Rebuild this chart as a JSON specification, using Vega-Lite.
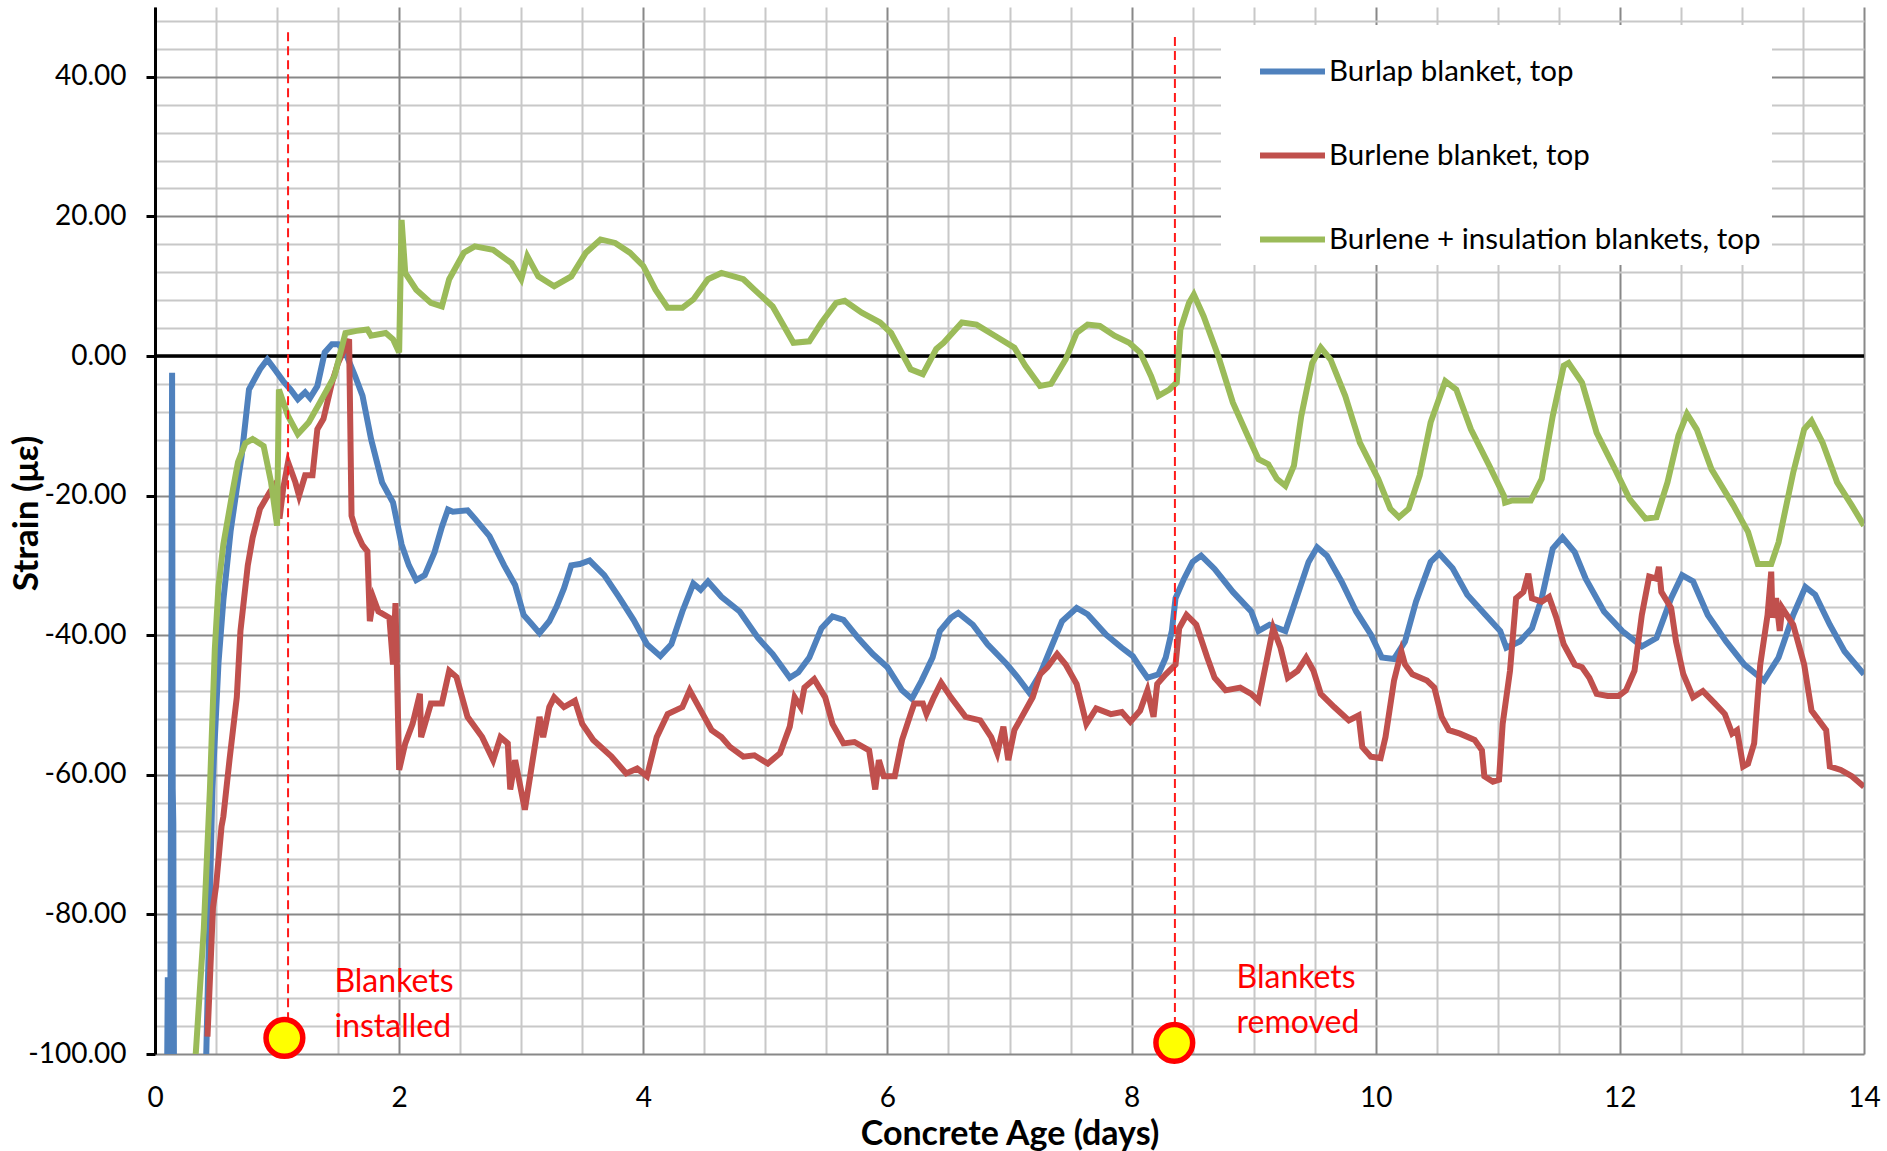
{
  "$schema": "https://vega.github.io/schema/vega-lite/v6.json",
  "width": 1709,
  "height": 1047,
  "autosize": {"type": "none"},
  "padding": {"left": 155, "top": 7, "right": 23, "bottom": 97},
  "background": "white",
  "config": {"view": {"stroke": null}, "font": "Lato"},
  "datasets": {
    "blue": [
      {"d":0.10,"v":-101},{"d":0.105,"v":-89},{"d":0.11,"v":-101},{"d":0.125,"v":-101},{"d":0.14,"v":-2.4},{"d":0.145,"v":-62},{"d":0.15,"v":-67},{"d":0.155,"v":-101},{"d":0.20,"v":-140},{"d":0.36,"v":-140},{"d":0.42,"v":-100},{"d":0.47,"v":-62},{"d":0.52,"v":-44},{"d":0.56,"v":-35},{"d":0.62,"v":-25},{"d":0.67,"v":-19},{"d":0.71,"v":-14.3},{"d":0.77,"v":-4.8},{"d":0.86,"v":-1.9},{"d":0.92,"v":-0.5},{"d":0.98,"v":-1.9},{"d":1.05,"v":-3.6},{"d":1.11,"v":-4.8},{"d":1.17,"v":-6.2},{"d":1.23,"v":-5.2},{"d":1.27,"v":-6},{"d":1.33,"v":-4.3},{"d":1.39,"v":0.5},{"d":1.45,"v":1.7},{"d":1.50,"v":1.7},{"d":1.56,"v":0.5},{"d":1.64,"v":-2.9},{"d":1.70,"v":-5.7},{"d":1.77,"v":-11.9},{"d":1.86,"v":-18.1},{"d":1.95,"v":-21},{"d":2.02,"v":-27},{"d":2.08,"v":-30},{"d":2.14,"v":-32.1},{"d":2.21,"v":-31.4},{"d":2.29,"v":-28.1},{"d":2.35,"v":-24.5},{"d":2.40,"v":-22},{"d":2.44,"v":-22.3},{"d":2.56,"v":-22.1},{"d":2.62,"v":-23.3},{"d":2.74,"v":-25.8},{"d":2.86,"v":-30},{"d":2.95,"v":-32.8},{"d":3.02,"v":-37.1},{"d":3.08,"v":-38.3},{"d":3.15,"v":-39.7},{"d":3.23,"v":-38},{"d":3.29,"v":-35.9},{"d":3.35,"v":-33.3},{"d":3.41,"v":-30},{"d":3.48,"v":-29.8},{"d":3.56,"v":-29.3},{"d":3.68,"v":-31.4},{"d":3.80,"v":-34.5},{"d":3.92,"v":-37.8},{"d":4.03,"v":-41.3},{"d":4.14,"v":-43},{"d":4.23,"v":-41.3},{"d":4.32,"v":-36.6},{"d":4.41,"v":-32.6},{"d":4.47,"v":-33.5},{"d":4.53,"v":-32.3},{"d":4.64,"v":-34.5},{"d":4.79,"v":-36.6},{"d":4.94,"v":-40.4},{"d":5.06,"v":-42.7},{"d":5.20,"v":-46.1},{"d":5.27,"v":-45.3},{"d":5.36,"v":-43.2},{"d":5.46,"v":-39},{"d":5.55,"v":-37.3},{"d":5.64,"v":-37.8},{"d":5.76,"v":-40.4},{"d":5.88,"v":-42.7},{"d":6.0,"v":-44.6},{"d":6.12,"v":-47.9},{"d":6.20,"v":-49.1},{"d":6.28,"v":-46.5},{"d":6.37,"v":-43.2},{"d":6.43,"v":-39.4},{"d":6.52,"v":-37.5},{"d":6.58,"v":-36.8},{"d":6.70,"v":-38.5},{"d":6.82,"v":-41.3},{"d":6.98,"v":-44.2},{"d":7.07,"v":-46.1},{"d":7.16,"v":-48.2},{"d":7.25,"v":-45.6},{"d":7.34,"v":-41.8},{"d":7.43,"v":-38},{"d":7.55,"v":-36.1},{"d":7.64,"v":-37},{"d":7.79,"v":-39.9},{"d":7.92,"v":-41.8},{"d":8.01,"v":-43},{"d":8.07,"v":-44.6},{"d":8.13,"v":-46.1},{"d":8.22,"v":-45.6},{"d":8.28,"v":-43.2},{"d":8.33,"v":-39.4},{"d":8.36,"v":-34.7},{"d":8.43,"v":-31.9},{"d":8.50,"v":-29.5},{"d":8.57,"v":-28.6},{"d":8.68,"v":-30.5},{"d":8.83,"v":-33.8},{"d":8.98,"v":-36.6},{"d":9.04,"v":-39.4},{"d":9.13,"v":-38.5},{"d":9.26,"v":-39.4},{"d":9.35,"v":-34.7},{"d":9.45,"v":-29.5},{"d":9.52,"v":-27.4},{"d":9.60,"v":-28.6},{"d":9.72,"v":-32.3},{"d":9.84,"v":-36.6},{"d":9.96,"v":-39.9},{"d":10.05,"v":-43.2},{"d":10.15,"v":-43.4},{"d":10.24,"v":-40.9},{"d":10.33,"v":-35.2},{"d":10.45,"v":-29.5},{"d":10.52,"v":-28.3},{"d":10.63,"v":-30.4},{"d":10.75,"v":-34.2},{"d":10.90,"v":-37.1},{"d":11.02,"v":-39.4},{"d":11.07,"v":-41.8},{"d":11.18,"v":-40.9},{"d":11.28,"v":-39},{"d":11.36,"v":-34.7},{"d":11.45,"v":-27.6},{"d":11.53,"v":-26},{"d":11.63,"v":-28.1},{"d":11.72,"v":-31.9},{"d":11.87,"v":-36.6},{"d":12.02,"v":-39.4},{"d":12.18,"v":-41.6},{"d":12.30,"v":-40.4},{"d":12.42,"v":-34.7},{"d":12.51,"v":-31.4},{"d":12.60,"v":-32.3},{"d":12.72,"v":-37.1},{"d":12.87,"v":-40.9},{"d":13.02,"v":-44.2},{"d":13.18,"v":-46.5},{"d":13.30,"v":-43.2},{"d":13.42,"v":-37.1},{"d":13.52,"v":-33.1},{"d":13.60,"v":-34.2},{"d":13.72,"v":-38.5},{"d":13.84,"v":-42.3},{"d":14.0,"v":-45.6}
    ],
    "red": [
      {"d":0.43,"v":-97.5},{"d":0.475,"v":-79},{"d":0.50,"v":-76},{"d":0.545,"v":-67.4},{"d":0.56,"v":-66},{"d":0.61,"v":-57.9},{"d":0.67,"v":-48.9},{"d":0.70,"v":-39.4},{"d":0.76,"v":-30},{"d":0.80,"v":-26},{"d":0.86,"v":-21.9},{"d":0.94,"v":-19.5},{"d":1.0,"v":-18},{"d":1.02,"v":-23.3},{"d":1.05,"v":-19},{"d":1.09,"v":-15.2},{"d":1.15,"v":-18.1},{"d":1.18,"v":-20},{"d":1.23,"v":-17.1},{"d":1.29,"v":-17.1},{"d":1.33,"v":-10.5},{"d":1.38,"v":-9},{"d":1.45,"v":-3.8},{"d":1.50,"v":-1},{"d":1.59,"v":2.4},{"d":1.61,"v":-22.9},{"d":1.65,"v":-25.2},{"d":1.70,"v":-27.1},{"d":1.74,"v":-28},{"d":1.76,"v":-38},{"d":1.79,"v":-34.7},{"d":1.83,"v":-36.6},{"d":1.92,"v":-37.5},{"d":1.95,"v":-44.2},{"d":1.97,"v":-35.4},{"d":2.0,"v":-59.3},{"d":2.05,"v":-55.5},{"d":2.11,"v":-52.7},{"d":2.17,"v":-48.4},{"d":2.18,"v":-54.6},{"d":2.26,"v":-49.8},{"d":2.35,"v":-49.8},{"d":2.41,"v":-45.1},{"d":2.47,"v":-46},{"d":2.56,"v":-51.7},{"d":2.68,"v":-54.6},{"d":2.77,"v":-57.9},{"d":2.83,"v":-54.6},{"d":2.89,"v":-55.5},{"d":2.91,"v":-62.1},{"d":2.95,"v":-57.9},{"d":3.03,"v":-65},{"d":3.09,"v":-58.3},{"d":3.15,"v":-51.7},{"d":3.18,"v":-54.6},{"d":3.23,"v":-50.3},{"d":3.27,"v":-48.9},{"d":3.35,"v":-50.3},{"d":3.44,"v":-49.4},{"d":3.50,"v":-52.7},{"d":3.59,"v":-55},{"d":3.74,"v":-57.4},{"d":3.86,"v":-59.8},{"d":3.95,"v":-59.1},{"d":4.03,"v":-60.2},{"d":4.11,"v":-54.6},{"d":4.20,"v":-51.3},{"d":4.32,"v":-50.3},{"d":4.38,"v":-47.9},{"d":4.44,"v":-49.8},{"d":4.56,"v":-53.6},{"d":4.64,"v":-54.6},{"d":4.71,"v":-56},{"d":4.82,"v":-57.4},{"d":4.91,"v":-57.2},{"d":5.02,"v":-58.4},{"d":5.12,"v":-56.9},{"d":5.20,"v":-53.1},{"d":5.24,"v":-48.9},{"d":5.29,"v":-50.3},{"d":5.32,"v":-47.5},{"d":5.40,"v":-46.3},{"d":5.49,"v":-48.9},{"d":5.55,"v":-52.7},{"d":5.64,"v":-55.5},{"d":5.73,"v":-55.3},{"d":5.85,"v":-56.5},{"d":5.90,"v":-62.1},{"d":5.93,"v":-57.9},{"d":5.97,"v":-60.2},{"d":6.06,"v":-60.2},{"d":6.12,"v":-55},{"d":6.19,"v":-51.3},{"d":6.22,"v":-49.8},{"d":6.29,"v":-49.8},{"d":6.32,"v":-51.3},{"d":6.38,"v":-48.9},{"d":6.44,"v":-46.8},{"d":6.52,"v":-48.9},{"d":6.64,"v":-51.7},{"d":6.76,"v":-52.2},{"d":6.85,"v":-54.6},{"d":6.90,"v":-56.9},{"d":6.95,"v":-53.1},{"d":6.99,"v":-57.9},{"d":7.04,"v":-53.6},{"d":7.13,"v":-50.8},{"d":7.19,"v":-48.9},{"d":7.25,"v":-45.6},{"d":7.31,"v":-44.6},{"d":7.39,"v":-42.7},{"d":7.46,"v":-44.2},{"d":7.55,"v":-47},{"d":7.63,"v":-52.7},{"d":7.71,"v":-50.5},{"d":7.83,"v":-51.3},{"d":7.92,"v":-51},{"d":7.99,"v":-52.4},{"d":8.07,"v":-50.8},{"d":8.13,"v":-47.9},{"d":8.18,"v":-51.7},{"d":8.21,"v":-47},{"d":8.28,"v":-45.6},{"d":8.36,"v":-44.2},{"d":8.39,"v":-39},{"d":8.45,"v":-37.1},{"d":8.53,"v":-38.5},{"d":8.62,"v":-43.2},{"d":8.68,"v":-46.1},{"d":8.77,"v":-47.9},{"d":8.89,"v":-47.5},{"d":8.98,"v":-48.4},{"d":9.04,"v":-49.4},{"d":9.10,"v":-44.2},{"d":9.16,"v":-39},{"d":9.22,"v":-41.8},{"d":9.28,"v":-46.1},{"d":9.36,"v":-45.1},{"d":9.43,"v":-43.2},{"d":9.49,"v":-45.1},{"d":9.55,"v":-48.4},{"d":9.66,"v":-50.3},{"d":9.78,"v":-52.2},{"d":9.86,"v":-51.5},{"d":9.89,"v":-56},{"d":9.96,"v":-57.4},{"d":10.04,"v":-57.6},{"d":10.08,"v":-54.6},{"d":10.15,"v":-46.5},{"d":10.21,"v":-42.3},{"d":10.24,"v":-44.2},{"d":10.30,"v":-45.6},{"d":10.42,"v":-46.5},{"d":10.48,"v":-47.5},{"d":10.54,"v":-51.7},{"d":10.60,"v":-53.6},{"d":10.69,"v":-54.1},{"d":10.81,"v":-55},{"d":10.87,"v":-56.5},{"d":10.89,"v":-60.2},{"d":10.96,"v":-61},{"d":11.01,"v":-60.7},{"d":11.04,"v":-52.7},{"d":11.10,"v":-45.1},{"d":11.15,"v":-34.7},{"d":11.21,"v":-33.8},{"d":11.25,"v":-31.2},{"d":11.28,"v":-34.7},{"d":11.36,"v":-35.2},{"d":11.42,"v":-34.5},{"d":11.48,"v":-37.5},{"d":11.54,"v":-41.3},{"d":11.63,"v":-44.2},{"d":11.69,"v":-44.6},{"d":11.75,"v":-46.1},{"d":11.81,"v":-48.4},{"d":11.90,"v":-48.7},{"d":11.99,"v":-48.7},{"d":12.05,"v":-47.9},{"d":12.12,"v":-45.1},{"d":12.18,"v":-37.1},{"d":12.24,"v":-31.6},{"d":12.30,"v":-31.9},{"d":12.32,"v":-30.2},{"d":12.34,"v":-33.8},{"d":12.42,"v":-36.1},{"d":12.46,"v":-40.9},{"d":12.52,"v":-45.6},{"d":12.60,"v":-48.9},{"d":12.68,"v":-48},{"d":12.78,"v":-49.8},{"d":12.86,"v":-51.3},{"d":12.92,"v":-54.1},{"d":12.96,"v":-53.6},{"d":13.01,"v":-58.8},{"d":13.05,"v":-58.4},{"d":13.10,"v":-55.5},{"d":13.15,"v":-44.2},{"d":13.21,"v":-37.1},{"d":13.24,"v":-30.9},{"d":13.25,"v":-37.5},{"d":13.28,"v":-34.7},{"d":13.31,"v":-39.4},{"d":13.33,"v":-36.1},{"d":13.42,"v":-38.5},{"d":13.51,"v":-44.2},{"d":13.57,"v":-50.8},{"d":13.63,"v":-52.2},{"d":13.69,"v":-53.6},{"d":13.72,"v":-58.8},{"d":13.81,"v":-59.3},{"d":13.90,"v":-60.2},{"d":14.0,"v":-61.7}
    ],
    "green": [
      {"d":0.33,"v":-101},{"d":0.40,"v":-82},{"d":0.45,"v":-62},{"d":0.49,"v":-42},{"d":0.52,"v":-33},{"d":0.56,"v":-27},{"d":0.64,"v":-19},{"d":0.68,"v":-15.2},{"d":0.74,"v":-12.5},{"d":0.80,"v":-11.9},{"d":0.89,"v":-12.9},{"d":0.95,"v":-18},{"d":1.0,"v":-24.3},{"d":1.015,"v":-4.8},{"d":1.09,"v":-8.6},{"d":1.17,"v":-11.2},{"d":1.26,"v":-9.5},{"d":1.35,"v":-6.7},{"d":1.47,"v":-2.9},{"d":1.56,"v":3.3},{"d":1.65,"v":3.6},{"d":1.74,"v":3.8},{"d":1.77,"v":2.9},{"d":1.89,"v":3.3},{"d":1.95,"v":2.4},{"d":2.0,"v":0.5},{"d":2.02,"v":19.5},{"d":2.05,"v":11.9},{"d":2.14,"v":9.5},{"d":2.26,"v":7.6},{"d":2.35,"v":7.1},{"d":2.41,"v":11},{"d":2.53,"v":14.8},{"d":2.62,"v":15.7},{"d":2.77,"v":15.2},{"d":2.92,"v":13.3},{"d":3.0,"v":11},{"d":3.05,"v":14.3},{"d":3.14,"v":11.4},{"d":3.27,"v":10},{"d":3.41,"v":11.4},{"d":3.53,"v":14.8},{"d":3.65,"v":16.7},{"d":3.77,"v":16.2},{"d":3.89,"v":14.8},{"d":4.0,"v":12.9},{"d":4.1,"v":9.5},{"d":4.2,"v":6.9},{"d":4.32,"v":6.9},{"d":4.41,"v":8.1},{"d":4.53,"v":11},{"d":4.64,"v":11.9},{"d":4.82,"v":11},{"d":4.91,"v":9.5},{"d":5.06,"v":7.1},{"d":5.23,"v":1.9},{"d":5.36,"v":2.1},{"d":5.46,"v":4.8},{"d":5.58,"v":7.6},{"d":5.65,"v":7.9},{"d":5.79,"v":6.2},{"d":5.94,"v":4.8},{"d":6.03,"v":3.3},{"d":6.19,"v":-1.9},{"d":6.29,"v":-2.6},{"d":6.40,"v":1.0},{"d":6.46,"v":1.9},{"d":6.61,"v":4.8},{"d":6.73,"v":4.5},{"d":6.88,"v":2.9},{"d":7.04,"v":1.2},{"d":7.13,"v":-1.4},{"d":7.25,"v":-4.3},{"d":7.34,"v":-4.0},{"d":7.46,"v":-0.5},{"d":7.55,"v":3.3},{"d":7.64,"v":4.5},{"d":7.74,"v":4.3},{"d":7.86,"v":2.9},{"d":7.98,"v":1.9},{"d":8.07,"v":0.5},{"d":8.16,"v":-2.9},{"d":8.22,"v":-5.7},{"d":8.31,"v":-4.8},{"d":8.37,"v":-3.8},{"d":8.40,"v":3.8},{"d":8.47,"v":7.6},{"d":8.51,"v":8.8},{"d":8.59,"v":5.7},{"d":8.71,"v":0},{"d":8.83,"v":-6.7},{"d":8.95,"v":-11.4},{"d":9.04,"v":-14.8},{"d":9.12,"v":-15.5},{"d":9.19,"v":-17.6},{"d":9.26,"v":-18.6},{"d":9.33,"v":-15.7},{"d":9.39,"v":-8.6},{"d":9.48,"v":-1},{"d":9.55,"v":1.2},{"d":9.63,"v":-0.5},{"d":9.75,"v":-5.7},{"d":9.87,"v":-12.4},{"d":10.02,"v":-17.6},{"d":10.12,"v":-21.9},{"d":10.19,"v":-23.1},{"d":10.27,"v":-21.9},{"d":10.36,"v":-17.1},{"d":10.45,"v":-9.5},{"d":10.57,"v":-3.6},{"d":10.66,"v":-4.8},{"d":10.78,"v":-10.5},{"d":10.93,"v":-15.7},{"d":11.05,"v":-20},{"d":11.06,"v":-21},{"d":11.12,"v":-20.7},{"d":11.27,"v":-20.7},{"d":11.36,"v":-17.6},{"d":11.45,"v":-8.6},{"d":11.54,"v":-1.4},{"d":11.58,"v":-1},{"d":11.69,"v":-3.8},{"d":11.81,"v":-11},{"d":11.96,"v":-16.2},{"d":12.08,"v":-20.5},{"d":12.21,"v":-23.3},{"d":12.30,"v":-23.1},{"d":12.39,"v":-18.1},{"d":12.48,"v":-11.4},{"d":12.55,"v":-8.3},{"d":12.63,"v":-10.5},{"d":12.75,"v":-16.2},{"d":12.93,"v":-21.4},{"d":13.05,"v":-25.2},{"d":13.13,"v":-29.8},{"d":13.24,"v":-29.8},{"d":13.30,"v":-26.7},{"d":13.42,"v":-16.7},{"d":13.51,"v":-10.5},{"d":13.57,"v":-9.3},{"d":13.66,"v":-12.4},{"d":13.78,"v":-18.1},{"d":13.90,"v":-21.4},{"d":14.0,"v":-24.3}
    ],
    "zero": [{"d": 0, "d2": 14, "v": 0}],
    "events": [
      {"d": 1.09, "v": 46.4, "v2": -95.5, "cd": 1.06, "cv": -97.7},
      {"d": 8.355, "v": 45.7, "v2": -96, "cd": 8.35, "cv": -98.4}
    ],
    "notes": [
      {"d": 1.47, "v": -89.7, "t": "Blankets"},
      {"d": 1.47, "v": -96.1, "t": "installed"},
      {"d": 8.86, "v": -89.1, "t": "Blankets"},
      {"d": 8.86, "v": -95.6, "t": "removed"}
    ]
  },
  "encoding": {
    "x": {
      "field": "d", "type": "quantitative",
      "scale": {"domain": [0, 14], "nice": false, "zero": false},
      "axis": {
        "title": "Concrete Age (days)",
        "titleFont": "Lato", "titleFontSize": 34, "titleFontWeight": "bold", "titleColor": "black",
        "titleBaseline": "middle", "titleY": 80,
        "values": [0,0.5,1,1.5,2,2.5,3,3.5,4,4.5,5,5.5,6,6.5,7,7.5,8,8.5,9,9.5,10,10.5,11,11.5,12,12.5,13,13.5,14],
        "labelExpr": "datum.value % 2 === 0 ? format(datum.value, 'd') : ''",
        "labelOverlap": false, "labelFlush": false,
        "labelFont": "Lato", "labelFontSize": 28, "labelColor": "black", "labelPadding": 30,
        "ticks": false, "domain": false,
        "grid": true,
        "gridColor": {"condition": {"test": "datum.value % 2 === 0", "value": "#888888"}, "value": "#c8c8c8"},
        "gridWidth": 2, "gridOpacity": 1
      }
    },
    "y": {
      "field": "v", "type": "quantitative",
      "scale": {"domain": [-100, 50], "nice": false, "zero": false},
      "axis": {
        "title": "Strain (με)",
        "titleFont": "Lato", "titleFontSize": 35, "titleFontWeight": "bold", "titleColor": "black",
        "titleAngle": -90, "titleAlign": "center", "titleBaseline": "middle", "titleX": -129, "titleY": 506,
        "values": [-100,-96,-92,-88,-84,-80,-76,-72,-68,-64,-60,-56,-52,-48,-44,-40,-36,-32,-28,-24,-20,-16,-12,-8,-4,0,4,8,12,16,20,24,28,32,36,40,44,48],
        "labelExpr": "datum.value % 20 === 0 ? replace(format(datum.value, '.2f'), '\u2212', '-') : ''",
        "labelOverlap": false, "labelFont": "Lato", "labelFontSize": 28, "labelColor": "black", "labelPadding": 20,
        "ticks": true, "tickSize": 9, "tickWidth": 3,
        "tickColor": {"condition": {"test": "datum.value % 20 === 0", "value": "black"}, "value": "transparent"},
        "domain": true, "domainColor": "black", "domainWidth": 3,
        "grid": true,
        "gridColor": {"condition": {"test": "datum.value % 20 === 0", "value": "#888888"}, "value": "#c8c8c8"},
        "gridWidth": 2, "gridOpacity": 1
      }
    }
  },
  "layer": [
    {
      "data": {"name": "zero"},
      "mark": {"type": "rule", "color": "black", "strokeWidth": 3.5},
      "encoding": {"x2": {"field": "d2"}}
    },
    {
      "data": {"name": "blue"},
      "transform": [{"calculate": "'Burlap blanket, top'", "as": "s"}],
      "mark": {"type": "line", "strokeWidth": 6, "clip": true},
      "encoding": {
        "color": {
          "field": "s", "type": "nominal",
          "scale": {"domain": ["Burlap blanket, top", "Burlene blanket, top", "Burlene + insulation blankets, top"], "range": ["#4F81BD", "#C0504D", "#9BBB59"]},
          "legend": {
            "title": null, "orient": "none", "legendX": 1066, "legendY": 18,
            "fillColor": "white", "padding": 11, "symbolType": "stroke", "symbolSize": 4225,
            "symbolStrokeWidth": 6, "rowPadding": 34, "labelFont": "Lato", "labelFontSize": 29.5,
            "labelColor": "black", "symbolOffset": 25, "labelOffset": 1, "labelLimit": 0
          }
        }
      }
    },
    {
      "data": {"name": "red"},
      "transform": [{"calculate": "'Burlene blanket, top'", "as": "s"}],
      "mark": {"type": "line", "strokeWidth": 6, "clip": true},
      "encoding": {"color": {"field": "s", "type": "nominal"}}
    },
    {
      "data": {"name": "green"},
      "transform": [{"calculate": "'Burlene + insulation blankets, top'", "as": "s"}],
      "mark": {"type": "line", "strokeWidth": 6, "clip": true},
      "encoding": {"color": {"field": "s", "type": "nominal"}}
    },
    {
      "data": {"name": "events"},
      "mark": {"type": "rule", "color": "#FF1A1A", "strokeWidth": 2, "strokeDash": [9, 5]},
      "encoding": {"y2": {"field": "v2"}}
    },
    {
      "data": {"name": "events"},
      "mark": {"type": "point", "shape": "circle", "filled": true, "fill": "#FFFF00", "stroke": "#FF0000", "strokeWidth": 5.5, "size": 1350, "opacity": 1},
      "encoding": {"x": {"field": "cd", "type": "quantitative"}, "y": {"field": "cv", "type": "quantitative"}}
    },
    {
      "data": {"name": "notes"},
      "mark": {"type": "text", "align": "left", "baseline": "middle", "font": "Lato", "fontSize": 32, "color": "#FF0000"},
      "encoding": {"text": {"field": "t"}}
    }
  ]
}
